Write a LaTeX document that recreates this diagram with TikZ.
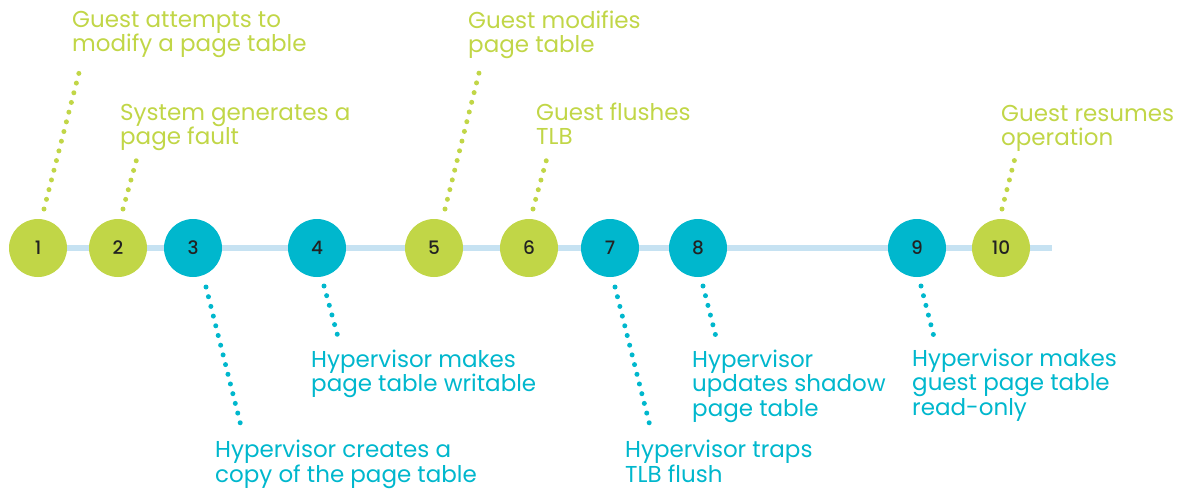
\documentclass[tikz,border=0pt]{standalone}
\usepackage{fontspec}
\setmainfont{Poppins}
\newfontfamily\numfont{Poppins Medium}
\definecolor{limeg}{HTML}{C1D647}
\definecolor{tealc}{HTML}{00B7CD}
\definecolor{lineblue}{HTML}{C6E2F2}
\definecolor{numcol}{HTML}{222222}
\begin{document}
\begin{tikzpicture}[x=1pt,y=-1pt]
\useasboundingbox (0,0) rectangle (1191,488);
\tikzset{
 stepcirc/.style={circle, minimum size=58pt, inner sep=0pt, text=numcol, font=\numfont\fontsize{18.5}{18.5}\selectfont},
 gcirc/.style={stepcirc, fill=limeg},
 tcirc/.style={stepcirc, fill=tealc},
 lbl/.style={anchor=base west, align=left, inner sep=0pt, font=\fontsize{23}{24.5}\selectfont},
 glbl/.style={lbl, text=limeg},
 tlbl/.style={lbl, text=tealc},
 gdots/.style={line width=5pt, line cap=round, dash pattern=on 0pt off 10pt, limeg},
 tdots/.style={line width=5pt, line cap=round, dash pattern=on 0pt off 10pt, tealc},
}
\coordinate (lstart) at (38,248);
\coordinate (lend) at (1052,248);
\draw[line width=6pt, lineblue] (lstart) -- (lend);
\node[gcirc] (c1) at (38,248) {1};
\node[gcirc] (c2) at (118,248) {2};
\node[tcirc] (c3) at (193,248) {3};
\node[tcirc] (c4) at (317,248) {4};
\node[gcirc] (c5) at (434,248) {5};
\node[gcirc] (c6) at (529,248) {6};
\node[tcirc] (c7) at (610,248) {7};
\node[tcirc] (c8) at (698,248) {8};
\node[tcirc] (c9) at (917,248) {9};
\node[gcirc] (c10) at (1001,248) {10};
% labels (anchored at the baseline of their last line)
\node[glbl] (l1) at (72,51.5) {Guest attempts to\\modify a page table};
\node[glbl] (l2) at (120,144.5) {System generates a\\page fault};
\node[tlbl] (l3) at (215,482) {Hypervisor creates a\\copy of the page table};
\node[tlbl] (l4) at (311,391.5) {Hypervisor makes\\page table writable};
\node[glbl] (l5) at (468,52.5) {Guest modifies\\page table};
\node[glbl] (l6) at (536,144.5) {Guest flushes\\TLB};
\node[tlbl] (l7) at (625,482) {Hypervisor traps\\TLB flush};
\node[tlbl] (l8) at (692,416) {Hypervisor\\updates shadow\\page table};
\node[tlbl] (l9) at (912,415) {Hypervisor makes\\guest page table\\read-only};
\node[glbl] (l10) at (1001,145.5) {Guest resumes\\operation};
% dotted leaders
\coordinate (d1a) at (44,209);  \coordinate (d1b) at (81,65);
\coordinate (d2a) at (123,209); \coordinate (d2b) at (137,158);
\coordinate (d3a) at (206,287); \coordinate (d3b) at (242,430);
\coordinate (d4a) at (324,286); \coordinate (d4b) at (338,337);
\coordinate (d5a) at (445,209); \coordinate (d5b) at (481,65);
\coordinate (d6a) at (533,209); \coordinate (d6b) at (547,158);
\coordinate (d7a) at (615,287); \coordinate (d7b) at (651,430);
\coordinate (d8a) at (703,286); \coordinate (d8b) at (716,337);
\coordinate (d9a) at (921,286); \coordinate (d9b) at (934,337);
\coordinate (d10a) at (1002,209); \coordinate (d10b) at (1015,158);
\draw[gdots] (d1a) -- (d1b);
\draw[gdots] (d2a) -- (d2b);
\draw[tdots] (d3a) -- (d3b);
\draw[tdots] (d4a) -- (d4b);
\draw[gdots] (d5a) -- (d5b);
\draw[gdots] (d6a) -- (d6b);
\draw[tdots] (d7a) -- (d7b);
\draw[tdots] (d8a) -- (d8b);
\draw[tdots] (d9a) -- (d9b);
\draw[gdots] (d10a) -- (d10b);
\end{tikzpicture}
\end{document}
